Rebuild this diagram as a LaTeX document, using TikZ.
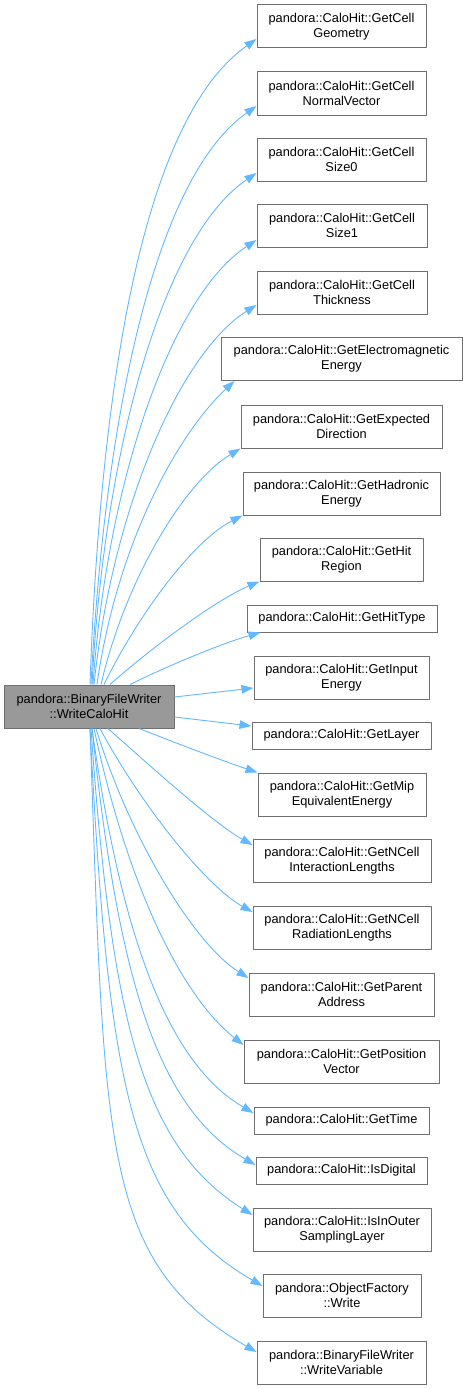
\documentclass[tikz,border=0pt]{standalone}
\usepackage{fontspec}
\setmainfont{Liberation Sans}
\usetikzlibrary{arrows.meta}
\definecolor{edgeblue}{HTML}{63B8FF}
\definecolor{boxline}{HTML}{707070}
\definecolor{mainfill}{HTML}{999999}
\tikzset{
  box/.style={draw=boxline, fill=white, line width=1pt, inner sep=0pt, align=center,
    font=\fontsize{12.8}{15.3}\selectfont, minimum height=43pt},
  onebox/.style={box, minimum height=27pt},
  mainbox/.style={box, fill=mainfill},
  edge/.style={draw=edgeblue, line width=0.9pt, -{Triangle[length=12pt,width=8.5pt]}}
}
\newcommand\cedge[4]{\draw[edge] #1 .. controls #2 and #3 .. #4;}
\begin{document}
\begin{tikzpicture}[x=1pt,y=-1pt]
\useasboundingbox (0,0) rectangle (467,1389);

\node[mainbox, minimum width=170pt] (main) at (89,706.5) {pandora::BinaryFileWriter\\::WriteCaloHit};

\node[box, minimum width=169pt] (g1) at (341.5,26.5) {pandora::CaloHit::GetCell\\Geometry};
\node[box, minimum width=169pt] (g2) at (341.5,93.5) {pandora::CaloHit::GetCell\\NormalVector};
\node[box, minimum width=169pt] (g3) at (341.5,159.5) {pandora::CaloHit::GetCell\\Size0};
\node[box, minimum width=170pt] (g4) at (342,225.5) {pandora::CaloHit::GetCell\\Size1};
\node[box, minimum width=170pt] (g5) at (342,292.5) {pandora::CaloHit::GetCell\\Thickness};
\node[box, minimum width=241pt] (g6) at (341.5,359) {pandora::CaloHit::GetElectromagnetic\\Energy};
\node[box, minimum width=201pt] (g7) at (341.5,426.5) {pandora::CaloHit::GetExpected\\Direction};
\node[box, minimum width=197pt] (g8) at (341.5,493.5) {pandora::CaloHit::GetHadronic\\Energy};
\node[box, minimum width=163pt] (g9) at (341.5,559.5) {pandora::CaloHit::GetHit\\Region};
\node[onebox, minimum width=190pt] (g10) at (342,618.5) {pandora::CaloHit::GetHitType};
\node[box, minimum width=175pt] (g11) at (341.5,677.5) {pandora::CaloHit::GetInput\\Energy};
\node[onebox, minimum width=179pt] (g12) at (341.5,735.5) {pandora::CaloHit::GetLayer};
\node[box, minimum width=168pt] (g13) at (342,794.5) {pandora::CaloHit::GetMip\\EquivalentEnergy};
\node[box, minimum width=178pt] (g14) at (342,860.5) {pandora::CaloHit::GetNCell\\InteractionLengths};
\node[box, minimum width=178pt] (g15) at (342,927.5) {pandora::CaloHit::GetNCell\\RadiationLengths};
\node[box, minimum width=185pt] (g16) at (341.5,994.5) {pandora::CaloHit::GetParent\\Address};
\node[box, minimum width=195pt] (g17) at (341.5,1061.5) {pandora::CaloHit::GetPosition\\Vector};
\node[onebox, minimum width=175pt] (g18) at (341.5,1120.5) {pandora::CaloHit::GetTime};
\node[onebox, minimum width=171pt] (g19) at (341.5,1170.5) {pandora::CaloHit::IsDigital};
\node[box, minimum width=178pt] (g20) at (342,1229.5) {pandora::CaloHit::IsInOuter\\SamplingLayer};
\node[box, minimum width=158pt] (g21) at (342,1295.5) {pandora::ObjectFactory\\::Write};
\node[box, minimum width=169pt] (g22) at (341.5,1362.5) {pandora::BinaryFileWriter\\::WriteVariable};

% upper edges
\cedge{([xshift=1pt]main.north)}{(100.5,385.2)}{(142.3,119.4)}{([yshift=-12.5pt]g1.west)}
\cedge{([xshift=2pt]main.north)}{(105.1,415.4)}{(154.6,177.8)}{([yshift=-12.5pt]g2.west)}
\cedge{([xshift=3pt]main.north)}{(104.6,445.3)}{(164.1,235.6)}{([yshift=-13.5pt]g3.west)}
\cedge{([xshift=4pt]main.north)}{(107.7,475.5)}{(173.1,294.5)}{([yshift=-14.5pt]g4.west)}
\cedge{([xshift=5pt]main.north)}{(112.8,506)}{(180.7,352.7)}{([yshift=-12.5pt]g5.west)}
\cedge{([xshift=8pt]main.north)}{(117.2,541.4)}{(179.3,432.2)}{([xshift=14pt]g6.south west)}
\cedge{([xshift=12pt]main.north)}{(125.8,577.8)}{(185.3,481.5)}{(g7.south west)}
\cedge{([xshift=15pt]main.north)}{(139.0,613.1)}{(194,540)}{(g8.south west)}
\cedge{([xshift=21pt]main.north)}{(154.6,644.9)}{(218.6,598.6)}{(g9.south west)}
\cedge{([xshift=41pt]main.north)}{(165.6,666.8)}{(222.6,643.0)}{([xshift=14pt]g10.south west)}

% side edges
\draw[edge] ([yshift=9.5pt]main.east) -- ([yshift=-10.5pt]g11.west);
\draw[edge] ([yshift=-10.5pt]main.east) -- ([yshift=9.5pt]g12.west);

% lower edges
\cedge{([xshift=50pt]main.south)}{(176.1,743.0)}{(220.2,760.0)}{(g13.north west)}
\cedge{([xshift=19pt]main.south)}{(148.9,764.8)}{(213.6,823.2)}{([yshift=15.5pt]g14.west)}
\cedge{([xshift=11pt]main.south)}{(139.9,803.1)}{(204.9,885.3)}{([yshift=15.5pt]g15.west)}
\cedge{([xshift=7pt]main.south)}{(129.6,838.0)}{(193.9,943.6)}{([yshift=16.5pt]g16.west)}
\cedge{([xshift=5pt]main.south)}{(127.3,884.5)}{(181.0,995.7)}{([yshift=16.5pt]g17.west)}
\cedge{([xshift=3pt]main.south)}{(121.2,935.9)}{(167.4,1063)}{([yshift=7.5pt]g18.west)}
\cedge{([xshift=3pt]main.south)}{(118.1,976.6)}{(156.4,1107.5)}{([yshift=5.5pt]g19.west)}
\cedge{([xshift=2pt]main.south)}{(111.6,1022.3)}{(142.8,1146.1)}{([yshift=14.5pt]g20.west)}
\cedge{([xshift=1pt]main.south)}{(108.6,1082.5)}{(128.8,1208.5)}{([yshift=9.5pt]g21.west)}
\cedge{([xshift=1pt]main.south)}{(104.7,1147.7)}{(101.1,1262)}{([yshift=10.5pt]g22.west)}
\end{tikzpicture}
\end{document}
